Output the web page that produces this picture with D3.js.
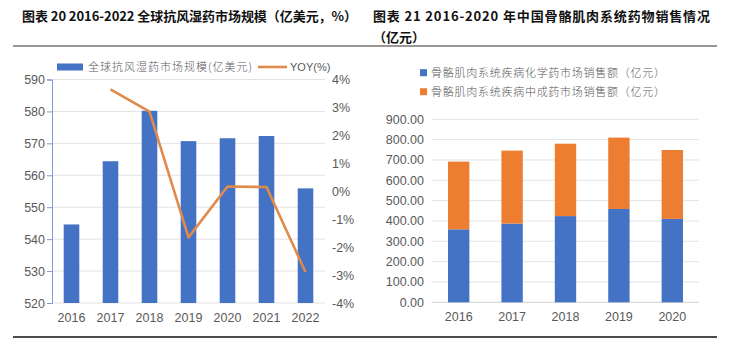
<!DOCTYPE html>
<html>
<head>
<meta charset="utf-8">
<script src="https://cdn.jsdelivr.net/npm/d3@7"></script>
<style>
  body { margin: 0; background: #fff; }
  svg { display: block; font-family: "Liberation Sans", Arial, sans-serif; }
  .cjk { font-family: "Noto Sans CJK SC", sans-serif; }
</style>
</head>
<body>
<svg id="chart" width="731" height="349"></svg>
<script>
// left chart data
const years1 = ["2016", "2017", "2018", "2019", "2020", "2021", "2022"];
const marketSize = [544.6, 564.4, 580.2, 570.7, 571.6, 572.3, 555.9];
const yoy = [null, 3.65, 2.85, -1.65, 0.17, 0.15, -2.89];
const leftTicks = [520, 530, 540, 550, 560, 570, 580, 590];
const rightTicks = [-4, -3, -2, -1, 0, 1, 2, 3, 4];

// right chart data
const years2 = ["2016", "2017", "2018", "2019", "2020"];
const chemSales = [359, 387, 424, 459, 410];
const tcmSales = [333, 359, 356, 351, 339];
const salesTicks = [0, 100, 200, 300, 400, 500, 600, 700, 800, 900];

const BLUE = "#4472C4";
const ORANGE = "#ED7D31";
const LINE = "#E08A4C";
const TEXT = "#595959";
const GRID = "#E3E3E3";
const FS = 12.5;

const svg = d3.select("#chart");

// titles and rules
svg.append("text").attr("class", "cjk").attr("x", 22).attr("y", 21)
  .attr("font-size", 13).attr("font-weight", 700).attr("fill", "#111")
  .attr("textLength", 335).attr("lengthAdjust", "spacing")
  .text("图表 20 2016-2022 全球抗风湿药市场规模（亿美元，%）");
svg.append("text").attr("class", "cjk").attr("x", 373).attr("y", 21)
  .attr("font-size", 13).attr("font-weight", 700).attr("fill", "#111")
  .attr("textLength", 337).attr("lengthAdjust", "spacing")
  .text("图表 21 2016-2020 年中国骨骼肌肉系统药物销售情况");
svg.append("text").attr("class", "cjk").attr("x", 373).attr("y", 42)
  .attr("font-size", 13).attr("font-weight", 700).attr("fill", "#111")
  .text("（亿元）");
svg.append("line").attr("x1", 13).attr("x2", 717).attr("y1", 46).attr("y2", 46)
  .attr("stroke", "#333").attr("stroke-width", 1.2);
svg.append("line").attr("x1", 13).attr("x2", 717).attr("y1", 337).attr("y2", 337)
  .attr("stroke", "#111").attr("stroke-width", 1.5);

// ---------- left chart ----------
const g1 = svg.append("g");
const x1 = d3.scaleBand().domain(years1).range([52, 325]).paddingInner(0.6).paddingOuter(0.3);
const y1 = d3.scaleLinear().domain([520, 590]).range([303, 79.5]);
const y1r = d3.scaleLinear().domain([-4, 4]).range([303, 79.5]);

// gridlines
g1.append("g").selectAll("line").data(leftTicks).join("line")
  .attr("x1", 52).attr("x2", 325)
  .attr("y1", d => y1(d)).attr("y2", d => y1(d))
  .attr("stroke", GRID);

g1.append("g").selectAll("rect").data(marketSize).join("rect")
  .attr("x", (d, i) => x1(years1[i]))
  .attr("width", x1.bandwidth())
  .attr("y", d => y1(d))
  .attr("height", d => y1(520) - y1(d))
  .attr("fill", BLUE);

const line = d3.line()
  .defined(d => d != null)
  .x((d, i) => x1(years1[i]) + x1.bandwidth() / 2)
  .y(d => y1r(d));
g1.append("path").datum(yoy).attr("d", line)
  .attr("fill", "none").attr("stroke", LINE).attr("stroke-width", 2.6)
  .attr("stroke-linejoin", "round");

// left axis
const axL = g1.append("g").attr("transform", "translate(52,0)")
  .call(d3.axisLeft(y1).tickValues(leftTicks).tickSize(5).tickPadding(2));
axL.select(".domain").attr("stroke", "#7F9AD0");
axL.selectAll(".tick line").attr("stroke", "#7F9AD0");
axL.selectAll("text").attr("font-size", FS).attr("fill", TEXT)
  .attr("font-family", "Liberation Sans, Arial, sans-serif");

// right axis
const axR = g1.append("g").attr("transform", "translate(325,0)")
  .call(d3.axisRight(y1r).tickValues(rightTicks).tickSize(0).tickPadding(7)
    .tickFormat(d => d + "%"));
axR.select(".domain").remove();
axR.selectAll("text").attr("font-size", FS).attr("fill", TEXT)
  .attr("font-family", "Liberation Sans, Arial, sans-serif");

// x axis
const axB1 = g1.append("g").attr("transform", "translate(0,303)")
  .call(d3.axisBottom(x1).tickSize(0).tickPadding(10));
axB1.select(".domain").remove();
axB1.selectAll("text").attr("font-size", FS).attr("fill", TEXT)
  .attr("font-family", "Liberation Sans, Arial, sans-serif");

// legend
const lg1 = g1.append("g");
lg1.append("rect").attr("x", 57).attr("y", 63.5).attr("width", 26).attr("height", 7).attr("fill", BLUE);
lg1.append("text").attr("class", "cjk").attr("x", 88).attr("y", 71)
  .attr("font-size", 11).attr("fill", TEXT).attr("font-weight", 300)
  .attr("textLength", 164).attr("lengthAdjust", "spacing")
  .text("全球抗风湿药市场规模(亿美元)");
lg1.append("line").attr("x1", 258).attr("x2", 287).attr("y1", 67).attr("y2", 67)
  .attr("stroke", LINE).attr("stroke-width", 2.6);
lg1.append("text").attr("x", 290).attr("y", 71)
  .attr("font-size", 11).attr("fill", TEXT)
  .text("YOY(%)");

// ---------- right chart ----------
const g2 = svg.append("g");
const x2 = d3.scaleBand().domain(years2).range([432, 699]).paddingInner(0.6).paddingOuter(0.3);
const y2 = d3.scaleLinear().domain([0, 900]).range([302.3, 119.3]);

g2.append("g").selectAll("line").data(salesTicks).join("line")
  .attr("x1", 432).attr("x2", 699)
  .attr("y1", d => y2(d)).attr("y2", d => y2(d))
  .attr("stroke", d => d === 0 ? "#D0D0D0" : GRID);

const stacked = d3.stack().keys(["chem", "tcm"])(
  years2.map((y, i) => ({ year: y, chem: chemSales[i], tcm: tcmSales[i] })));
const colors2 = [BLUE, ORANGE];
g2.append("g").selectAll("g").data(stacked).join("g")
  .attr("fill", (d, i) => colors2[i])
  .selectAll("rect").data(d => d).join("rect")
  .attr("x", d => x2(d.data.year))
  .attr("width", x2.bandwidth())
  .attr("y", d => y2(d[1]))
  .attr("height", d => y2(d[0]) - y2(d[1]));

const axL2 = g2.append("g").attr("transform", "translate(432,0)")
  .call(d3.axisLeft(y2).tickValues(salesTicks).tickSize(0).tickPadding(8)
    .tickFormat(d3.format(".2f")));
axL2.select(".domain").remove();
axL2.selectAll("text").attr("font-size", FS).attr("fill", TEXT)
  .attr("font-family", "Liberation Sans, Arial, sans-serif");

const axB2 = g2.append("g").attr("transform", "translate(0,302.3)")
  .call(d3.axisBottom(x2).tickSize(0).tickPadding(10));
axB2.select(".domain").remove();
axB2.selectAll("text").attr("font-size", FS).attr("fill", TEXT)
  .attr("font-family", "Liberation Sans, Arial, sans-serif");

const legendNames = ["骨骼肌肉系统疾病化学药市场销售额（亿元）", "骨骼肌肉系统疾病中成药市场销售额（亿元）"];
const lg2 = g2.append("g").selectAll("g").data(legendNames).join("g")
  .attr("transform", (d, i) => `translate(420,${72.7 + i * 19})`);
lg2.append("rect").attr("x", 0).attr("y", -3.5).attr("width", 7).attr("height", 7)
  .attr("fill", (d, i) => colors2[i]);
lg2.append("text").attr("class", "cjk").attr("x", 11).attr("y", 4)
  .attr("font-size", 11).attr("fill", TEXT).attr("font-weight", 300)
  .attr("textLength", 234).attr("lengthAdjust", "spacing")
  .text(d => d);
</script>
</body>
</html>
